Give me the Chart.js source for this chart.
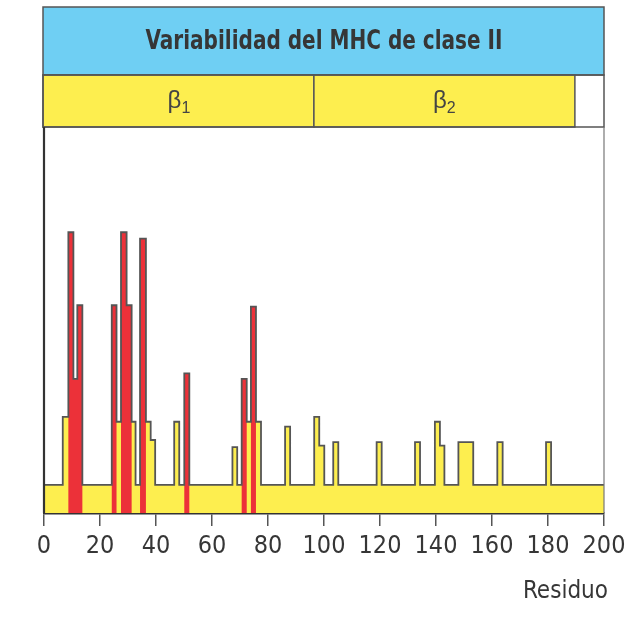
<!DOCTYPE html>
<html>
<head>
<meta charset="utf-8">
<script src="https://cdn.jsdelivr.net/npm/chart.js@4/dist/chart.umd.min.js"></script>
<style>
  html, body { margin: 0; padding: 0; background: #ffffff; }
  #wrap { width: 642px; height: 634px; }
</style>
</head>
<body>
<div id="wrap"><canvas id="c" width="642" height="634"></canvas></div>
<script>
// ---- Data ----
const chartTitle = 'Variabilidad del MHC de clase II';
const xAxisTitle = 'Residuo';
const xTicks = [0, 20, 40, 60, 80, 100, 120, 140, 160, 180, 200];

// Overall variability profile (step starts along the residue axis, and heights)
const stepStart = [0, 6.7, 8.7, 10.5, 11.9, 13.7, 24.2, 25.9, 27.5, 29.5, 31.3, 32.7,
  34.3, 36.4, 38.1, 39.7, 46.5, 48.3, 50.1, 51.9, 67.3, 69.0, 70.6, 72.4, 73.9, 75.7, 77.5,
  86.1, 87.9, 96.5, 98.3, 100.1, 103.3, 105.1, 118.8, 120.6, 132.5, 134.3, 139.6, 141.4, 143.0,
  148.0, 153.3, 161.9, 163.8, 179.3, 181.1, 200];
const stepHeight = [4, 13.7, 40, 19.1, 29.6, 4, 29.6, 13, 40, 29.6, 13, 4,
  39.1, 13, 10.4, 4, 13, 4, 19.9, 4, 9.4, 4, 19.1, 13, 29.4, 13, 4,
  12.3, 4, 13.7, 9.6, 4, 10.1, 4, 10.1, 4, 10.1, 4, 13, 9.6, 4,
  10.1, 4, 10.1, 4, 10.1, 4, 4];

// Hypervariable (red) columns
const redStart  = [8.7, 10.5, 11.9, 24.2, 27.5, 29.5, 34.3, 50.1, 70.6, 73.9];
const redEnd    = [10.5, 11.9, 13.7, 25.9, 29.5, 31.3, 36.4, 51.9, 72.4, 75.7];
const redHeight = [40, 19.1, 29.6, 29.6, 40, 29.6, 39.1, 19.9, 19.1, 29.4];

// Domains
const domainName  = ['β', 'β'];
const domainSub   = ['1', '2'];
const domainStart = [0, 96.4];
const domainEnd   = [96.4, 189.6];

// ---- Build library data ----
const profilePts = stepStart.map((x, i) => ({ x: x, y: stepHeight[i] }));
const redPts = [{ x: 0, y: 0 }];
for (let i = 0; i < redStart.length; i++) {
  redPts.push({ x: redStart[i], y: redHeight[i] });
  if (i === redStart.length - 1 || redStart[i + 1] !== redEnd[i]) {
    redPts.push({ x: redEnd[i], y: 0 });
  }
}
redPts.push({ x: 200, y: 0 });

const COL_BLUE = '#6fcff3';
const COL_YELLOW = '#fdee4f';
const COL_RED = '#ec3139';
const COL_LINE = '#555555';
const COL_TEXT = '#363636';
const NARROW = '"Liberation Sans Narrow", "DejaVu Sans Condensed", "Liberation Sans", sans-serif';

const bandsPlugin = {
  id: 'bands',
  afterDraw(chart) {
    const ctx = chart.ctx;
    const xs = chart.scales.x;
    const ca = chart.chartArea;
    const x0 = xs.getPixelForValue(0);
    const x1 = xs.getPixelForValue(200);
    const tTop = 7, tBot = 75, dBot = ca.top;
    ctx.save();
    // title band
    ctx.fillStyle = COL_BLUE;
    ctx.fillRect(x0 - 1, tTop, x1 - x0 + 1, tBot - tTop);
    ctx.strokeStyle = COL_LINE;
    ctx.lineWidth = 1.5;
    ctx.strokeRect(x0 - 1, tTop, x1 - x0 + 1, tBot - tTop);
    ctx.fillStyle = COL_TEXT;
    ctx.font = 'bold 27px ' + NARROW;
    ctx.textAlign = 'center';
    ctx.textBaseline = 'middle';
    const tw = ctx.measureText(chartTitle).width;
    const sx = Math.min(1, 357 / tw);
    ctx.save();
    ctx.translate((x0 + x1) / 2, (tTop + tBot) / 2 + 1);
    ctx.scale(sx, 1);
    ctx.fillText(chartTitle, 0, 0);
    ctx.restore();
    // domain band
    for (let i = 0; i < domainName.length; i++) {
      const a = xs.getPixelForValue(domainStart[i]);
      const b = xs.getPixelForValue(domainEnd[i]);
      ctx.fillStyle = COL_YELLOW;
      ctx.fillRect(a - (i === 0 ? 1 : 0), tBot, b - a, dBot - tBot);
      ctx.strokeStyle = COL_LINE;
      ctx.strokeRect(a - (i === 0 ? 1 : 0), tBot, b - a + (i === 0 ? 1 : 0), dBot - tBot);
      ctx.font = '24px "Liberation Sans", sans-serif';
      const wB = ctx.measureText(domainName[i]).width;
      ctx.font = '16px "Liberation Sans", sans-serif';
      const wS = ctx.measureText(domainSub[i]).width;
      const cx = (a + b) / 2;
      const lx = cx - (wB + wS) / 2;
      ctx.fillStyle = '#444444';
      ctx.textAlign = 'left';
      ctx.textBaseline = 'alphabetic';
      ctx.font = '24px "Liberation Sans", sans-serif';
      ctx.fillText(domainName[i], lx, 108);
      ctx.font = '16px "Liberation Sans", sans-serif';
      ctx.fillText(domainSub[i], lx + wB, 113);
    }
    ctx.strokeStyle = COL_LINE;
    ctx.strokeRect(x0 - 1, tBot, x1 - x0 + 1, dBot - tBot);
    // plot frame
    ctx.strokeStyle = '#777777';
    ctx.lineWidth = 1.2;
    ctx.beginPath();
    ctx.moveTo(x1, dBot);
    ctx.lineTo(x1, ca.bottom);
    ctx.stroke();
    ctx.strokeStyle = '#333333';
    ctx.lineWidth = 2.2;
    ctx.beginPath();
    ctx.moveTo(x0, dBot);
    ctx.lineTo(x0, ca.bottom);
    ctx.stroke();
    // axis title
    ctx.fillStyle = COL_TEXT;
    ctx.font = '24px ' + NARROW;
    ctx.textAlign = 'right';
    ctx.textBaseline = 'middle';
    ctx.fillText(xAxisTitle, x1 + 4, 592);
    ctx.restore();
  }
};

new Chart(document.getElementById('c'), {
  type: 'line',
  data: {
    datasets: [
      { label: 'outline', data: profilePts, stepped: 'before', fill: false,
        borderColor: COL_LINE, borderWidth: 1.8, pointRadius: 0, order: 0 },
      { label: 'hypervariable', data: redPts, stepped: 'before', fill: 'origin',
        backgroundColor: COL_RED, borderWidth: 0, borderColor: 'rgba(0,0,0,0)', pointRadius: 0, order: 1 },
      { label: 'variability', data: profilePts, stepped: 'before', fill: 'origin',
        backgroundColor: COL_YELLOW, borderWidth: 0, borderColor: 'rgba(0,0,0,0)', pointRadius: 0, order: 2 }
    ]
  },
  options: {
    responsive: false,
    animation: false,
    events: [],
    layout: { padding: { left: 44, right: 38, top: 127, bottom: 0 } },
    plugins: { legend: { display: false }, tooltip: { enabled: false }, title: { display: false } },
    scales: {
      x: {
        type: 'linear', min: 0, max: 200,
        afterBuildTicks(scale) { scale.ticks = xTicks.map(v => ({ value: v })); },
        afterFit(scale) { scale.height = 121; },
        border: { display: true, color: '#333333', width: 2.5 },
        grid: { drawOnChartArea: false, drawTicks: true, tickLength: 13, color: '#555555', lineWidth: 1.5 },
        ticks: { font: { family: NARROW, size: 25 }, color: COL_TEXT, padding: 5, maxRotation: 0, autoSkip: false }
      },
      y: { display: false, min: 0, max: 55 }
    }
  },
  plugins: [bandsPlugin]
});
</script>
</body>
</html>
